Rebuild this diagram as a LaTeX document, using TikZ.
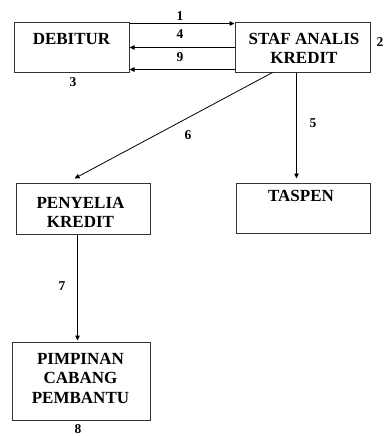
\documentclass[tikz,border=0pt]{standalone}
\usepackage{fontspec}
\setmainfont{Liberation Serif}
\usetikzlibrary{arrows.meta,calc}
\tikzset{
  box/.style={draw=black!80, line width=1pt, rectangle, inner sep=0pt},
  boxtext/.style={font=\bfseries\fontsize{17}{19.5}\selectfont, align=center, inner sep=0pt, anchor=north},
  num/.style={font=\bfseries\fontsize{13.5}{15}\selectfont, inner sep=0pt},
  arr/.style={line width=0.8pt, -{Triangle[length=5pt,width=4.5pt]}}
}
\begin{document}
\begin{tikzpicture}[x=1pt,y=-1pt]
\useasboundingbox (0,0) rectangle (386,436);
% boxes
\node[box, minimum width=115pt, minimum height=49pt] (deb) at (71.5,47.5) {};
\node[box, minimum width=135pt, minimum height=49pt] (staf) at (302.5,47.5) {};
\node[box, minimum width=134pt, minimum height=51pt] (peny) at (83,208.5) {};
\node[box, minimum width=134pt, minimum height=50pt] (tasp) at (303,208) {};
\node[box, minimum width=138pt, minimum height=78pt] (pimp) at (81,381) {};
% box texts
\node[boxtext] (debt) at (71.5,33) {DEBITUR};
\node[boxtext] (staft) at (304,33) {STAF ANALIS\\KREDIT};
\node[boxtext] (penyt) at (80.5,197) {PENYELIA\\KREDIT};
\node[boxtext] (taspt) at (301,190) {TASPEN};
\node[boxtext] (pimpt) at (80.5,353) {PIMPINAN\\CABANG\\PEMBANTU};
% connectors
\draw[arr] ($(deb.north east)+(0,1)$) -- ($(staf.north west)+(0,1)$);
\draw[arr] (staf.west) -- (deb.east);
\draw[arr] ($(staf.south west)+(0,-3)$) -- ($(deb.south east)+(0,-3)$);
\draw[arr] ($(staf.south west)+(38,0)$) -- ($(peny.north west)+(59,-4)$);
\draw[arr] ($(staf.south west)+(62,0)$) -- ($(tasp.north west)+(61,-4)$);
\draw[arr] ($(peny.south west)+(62,0)$) -- ($(pimp.north west)+(66,-1)$);
% numbers
\node[num] (n1) at (180,16) {1};
\node[num] (n4) at (180,34) {4};
\node[num] (n9) at (180,57) {9};
\node[num] (n3) at (73,82) {3};
\node[num] (n2) at (380,42) {2};
\node[num] (n6) at (188,135) {6};
\node[num] (n5) at (313,123) {5};
\node[num] (n7) at (62,286) {7};
\node[num] (n8) at (78,429) {8};
\end{tikzpicture}
\end{document}
